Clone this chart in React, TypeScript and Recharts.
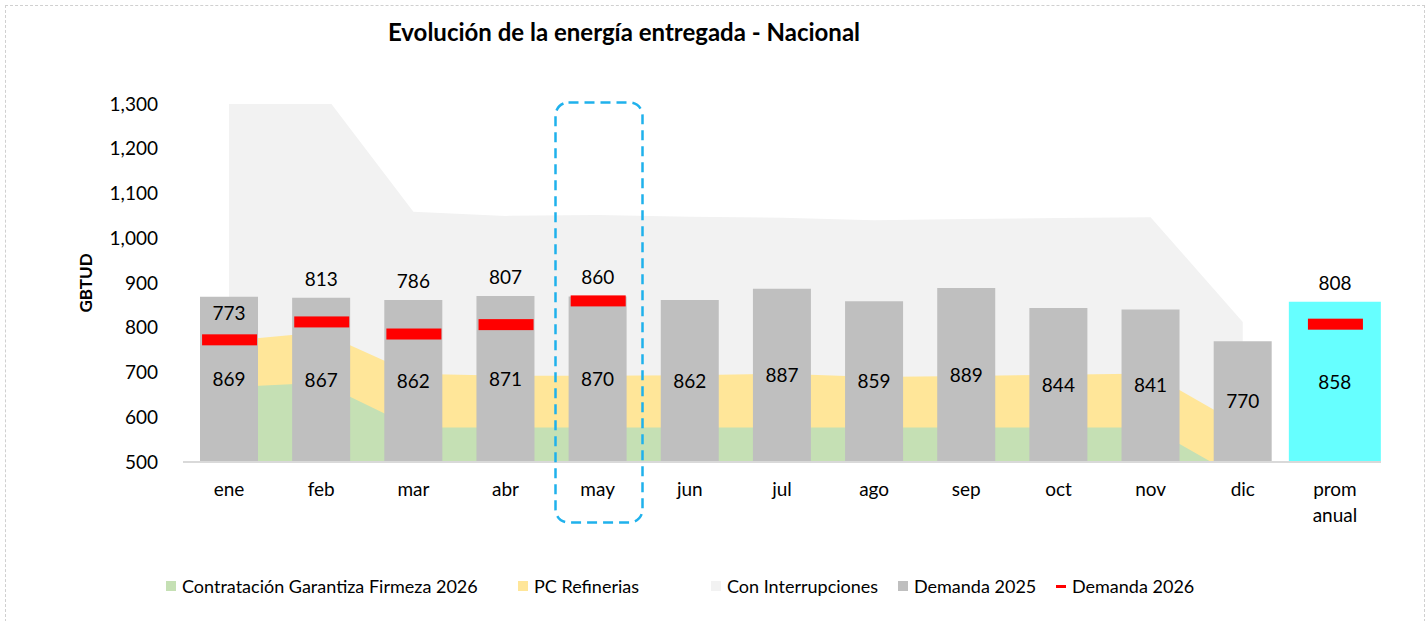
import {
  Area,
  Bar,
  ComposedChart,
  LabelList,
  Line,
  XAxis,
  YAxis,
} from "recharts";

const MESES = ["ene", "feb", "mar", "abr", "may", "jun", "jul", "ago", "sep", "oct", "nov", "dic", "prom anual"];

// stacked areas (GBTUD, each one on top of the previous)
const CONTRATACION_GF_2026 = [667, 677, 577, 577, 577, 577, 577, 577, 577, 577, 577, 460, null];
const PC_REFINERIAS = [104, 113, 120, 116, 116, 117, 120, 113, 115, 118, 121, 120, null];
const CON_INTERRUPCIONES = [549, 540, 362, 357, 359, 354, 349, 350, 351, 350, 349, 233, null];

const DEMANDA_2025 = [869, 867, 862, 871, 870, 862, 887, 859, 889, 844, 841, 770, null];
const PROMEDIO_ANUAL = [null, null, null, null, null, null, null, null, null, null, null, null, 858];
const DEMANDA_2026 = [773, 813, 786, 807, 860, null, null, null, null, null, null, null, 808];

const Y_TICKS = [500, 600, 700, 800, 900, 1000, 1100, 1200, 1300];

const SERIES_LEGEND = [
  { name: "Contratación Garantiza Firmeza 2026", color: "#c5e0b4", kind: "square", slot: 352 },
  { name: "PC Refinerias", color: "#ffe699", kind: "square", slot: 193 },
  { name: "Con Interrupciones", color: "#f2f2f2", kind: "square", slot: 187 },
  { name: "Demanda 2025", color: "#bfbfbf", kind: "square", slot: 158 },
  { name: "Demanda 2026", color: "#ff0000", kind: "dash", slot: 160 },
];

const rows = MESES.map((mes, i) => {
  const verde = CONTRATACION_GF_2026[i];
  const amarillo = verde == null ? null : verde + (PC_REFINERIAS[i] ?? 0);
  const gris = amarillo == null ? null : amarillo + (CON_INTERRUPCIONES[i] ?? 0);
  const barra = DEMANDA_2025[i] ?? PROMEDIO_ANUAL[i];
  const d26 = DEMANDA_2026[i];
  // label sits above the taller mark, unless the 2026 mark is well inside the bar
  const dentro = d26 != null && barra != null && barra - d26 > 90;
  const etiqueta = d26 == null ? null : dentro ? d26 : Math.max(barra ?? d26, d26);
  return {
    mes,
    verde,
    amarillo,
    gris,
    dem25: DEMANDA_2025[i],
    prom: PROMEDIO_ANUAL[i],
    dem26: d26,
    etiqueta,
    dentro,
  };
});

const FONT = "Lato, 'Open Sans', sans-serif";
const FS = 19;

function MesTick({ x, y, payload }: any) {
  const lines = String(payload.value).split(" ");
  return (
    <text x={x} y={y} textAnchor="middle" fontSize={FS} fill="#000">
      {lines.map((l, i) => (
        <tspan key={i} x={x} dy={i === 0 ? 34 : 26}>
          {l}
        </tspan>
      ))}
    </text>
  );
}

function RedDash(props: any) {
  const { cx, cy, value, index } = props;
  if (value == null || cy == null || isNaN(cy)) return <g key={index} />;
  return <rect key={index} x={cx - 27} y={cy - 5.5} width={55} height={11} fill="#ff0000" />;
}

function Dem26Label(props: any) {
  const { value, index } = props;
  if (value == null) return null;
  const x = props.viewBox?.x ?? props.x;
  const y = props.viewBox?.y ?? props.y;
  if (y == null || isNaN(y)) return null;
  const off = rows[index]?.dentro ? 20 : 12;
  return (
    <text x={x} y={y - off} textAnchor="middle" fontSize={FS} fill="#000">
      {value}
    </text>
  );
}

function YLabel({ viewBox }: any) {
  const x = viewBox.x + 12;
  const y = viewBox.y + viewBox.height / 2;
  return (
    <text
      x={x}
      y={y}
      transform={`rotate(-90, ${x}, ${y})`}
      textAnchor="middle"
      dominantBaseline="central"
      fontSize={17}
      fontWeight={700}
      fill="#000"
    >
      GBTUD
    </text>
  );
}

function Leyenda() {
  return (
    <div
      style={{
        position: "absolute",
        left: 166,
        top: 575,
        display: "flex",
        fontSize: 18,
        lineHeight: "22px",
        color: "#000",
      }}
    >
      {SERIES_LEGEND.map((s) => (
        <div key={s.name} style={{ width: s.slot, display: "flex", alignItems: "center" }}>
          <span
            style={{
              display: "inline-block",
              width: 10,
              height: s.kind === "dash" ? 3 : 10,
              background: s.color,
              marginRight: 6,
            }}
          />
          <span style={{ whiteSpace: "nowrap" }}>{s.name}</span>
        </div>
      ))}
    </div>
  );
}

export default function App() {
  return (
    <div
      style={{
        position: "absolute",
        left: 0,
        top: 0,
        width: 1427,
        height: 621,
        background: "#fff",
        fontFamily: FONT,
        overflow: "hidden",
      }}
    >
      <div
        style={{
          position: "absolute",
          left: 5,
          top: 5,
          width: 1418,
          height: 620,
          border: "1px dashed #d0d0d0",
        }}
      />
      <div
        style={{
          position: "absolute",
          left: 250,
          width: 748,
          top: 17,
          textAlign: "center",
          fontSize: 24,
          fontWeight: 700,
          color: "#000",
        }}
      >
        Evolución de la energía entregada - Nacional
      </div>

      <div style={{ position: "absolute", left: 0, top: 0 }}>
        <ComposedChart
          width={1427}
          height={621}
          data={rows}
          margin={{ top: 104, right: 46, bottom: 99, left: 73 }}
        >
          <XAxis
            dataKey="mes"
            tick={<MesTick />}
            tickLine={false}
            tickSize={0}
            tickMargin={0}
            interval={0}
            height={60}
            axisLine={{ stroke: "#d9d9d9", strokeWidth: 2 }}
          />
          <XAxis xAxisId="full" dataKey="mes" hide />
          <YAxis
            domain={[500, 1300]}
            ticks={Y_TICKS}
            allowDataOverflow
            axisLine={false}
            tickLine={false}
            tickSize={0}
            tickMargin={25}
            width={110}
            tick={{ fill: "#000", fontSize: FS }}
            tickFormatter={(v) => v.toLocaleString("en-US")}
            label={<YLabel />}
          />
          <Area
            dataKey="gris"
            name="Con Interrupciones"
            fill="#f2f2f2"
            fillOpacity={1}
            stroke="none"
            dot={false}
            activeDot={false}
            isAnimationActive={false}
          />
          <Area
            dataKey="amarillo"
            name="PC Refinerias"
            fill="#ffe699"
            fillOpacity={1}
            stroke="none"
            dot={false}
            activeDot={false}
            isAnimationActive={false}
          />
          <Area
            dataKey="verde"
            name="Contratación Garantiza Firmeza 2026"
            fill="#c5e0b4"
            fillOpacity={1}
            stroke="none"
            dot={false}
            activeDot={false}
            isAnimationActive={false}
          />
          <Bar dataKey="dem25" name="Demanda 2025" fill="#bfbfbf" barSize={58} isAnimationActive={false}>
            <LabelList dataKey="dem25" position="center" fill="#000" fontSize={FS} />
          </Bar>
          <Bar dataKey="prom" xAxisId="full" fill="#66ffff" barSize={92} legendType="none" isAnimationActive={false}>
            <LabelList dataKey="prom" position="center" fill="#000" fontSize={FS} />
          </Bar>
          <Line
            dataKey="dem26"
            name="Demanda 2026"
            stroke="none"
            dot={RedDash}
            activeDot={false}
            isAnimationActive={false}
          />
          <Line
            dataKey="etiqueta"
            stroke="none"
            dot={false}
            activeDot={false}
            legendType="none"
            isAnimationActive={false}
          >
            <LabelList dataKey="dem26" content={<Dem26Label />} />
          </Line>
        </ComposedChart>
      </div>

      <svg
        width={1427}
        height={621}
        style={{ position: "absolute", left: 0, top: 0, pointerEvents: "none" }}
      >
        <rect
          x={555.5}
          y={102.5}
          width={87}
          height={420}
          rx={13}
          fill="none"
          stroke="#1fb1ec"
          strokeWidth={2.5}
          strokeDasharray="10 6"
        />
      </svg>

      <Leyenda />
    </div>
  );
}
